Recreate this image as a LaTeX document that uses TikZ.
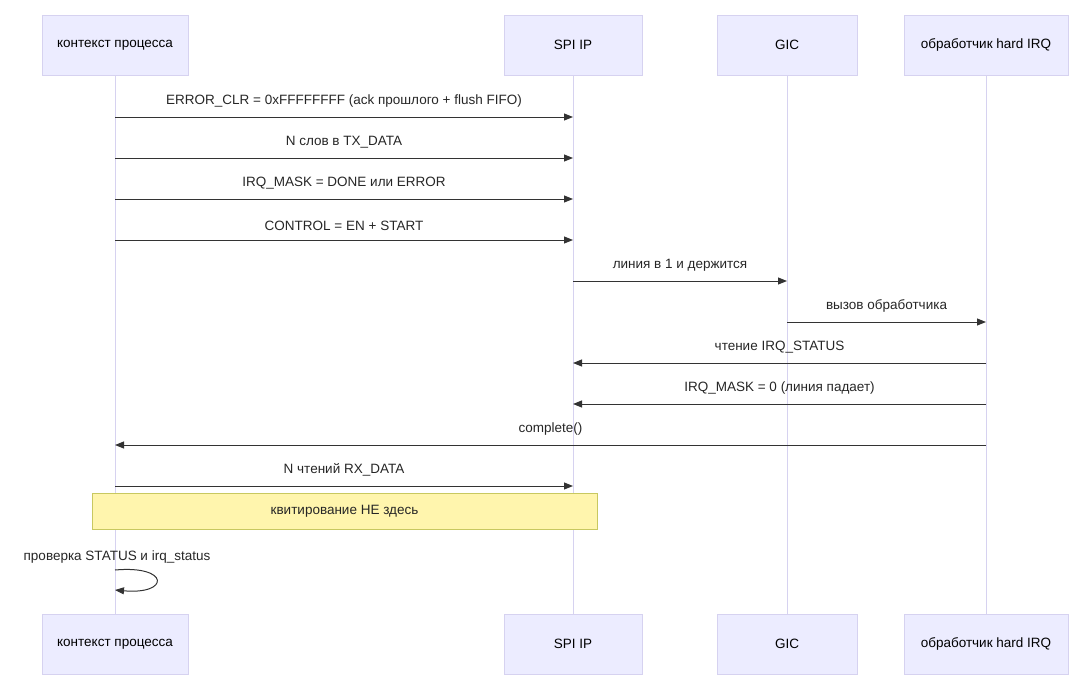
\documentclass[tikz,border=0pt]{standalone}
\usepackage{fontspec}
\setmainfont{Liberation Sans}
\usetikzlibrary{arrows.meta}

\begin{document}
\begin{tikzpicture}[x=1pt, y=-1pt, >={Triangle[length=9pt,width=7pt]},
    actor/.style={draw=lifeC, fill=actorC, minimum height=60pt, inner sep=0pt, font=\fontsize{13.5}{15}\selectfont},
    msg/.style={->, draw=black!80, line width=1pt},
    lbl/.style={font=\fontsize{13.5}{15}\selectfont, text=black!85, inner sep=0pt}]
    \definecolor{actorC}{HTML}{ECECFF}
    \definecolor{lifeC}{HTML}{D6D2F0}
    \definecolor{noteC}{HTML}{FFF5AD}
    \definecolor{noteD}{HTML}{C8C860}
    \useasboundingbox (0,0) rectangle (1086,696);

    % participants
    \node (ctx) at (115,45) [actor, minimum width=146pt] {контекст процесса};
    \node (spi) at (573,45) [actor, minimum width=138pt] {SPI IP};
    \node (gic) at (787,45) [actor, minimum width=140pt] {GIC};
    \node (irq) at (986,45) [actor, minimum width=164pt] {обработчик hard IRQ};
    \node (ctxb) at (115,644) [actor, minimum width=146pt] {контекст процесса};
    \node (spib) at (573,644) [actor, minimum width=138pt] {SPI IP};
    \node (gicb) at (787,644) [actor, minimum width=140pt] {GIC};
    \node (irqb) at (986,644) [actor, minimum width=164pt] {обработчик hard IRQ};

    % lifelines
    \draw [lifeC, line width=1pt] (ctx) -- (ctxb);
    \draw [lifeC, line width=1pt] (spi) -- (spib);
    \draw [lifeC, line width=1pt] (gic) -- (gicb);
    \draw [lifeC, line width=1pt] (irq) -- (irqb);

    % messages
    \draw [msg] (ctx |- 0,117) -- (spi |- 0,117) node [lbl, midway, above=9pt] {ERROR\_CLR = 0xFFFFFFFF (ack прошлого + flush FIFO)};
    \draw [msg] (ctx |- 0,158) -- (spi |- 0,158) node [lbl, midway, above=9pt] {N слов в TX\_DATA};
    \draw [msg] (ctx |- 0,199) -- (spi |- 0,199) node [lbl, midway, above=9pt] {IRQ\_MASK = DONE или ERROR};
    \draw [msg] (ctx |- 0,240) -- (spi |- 0,240) node [lbl, midway, above=9pt] {CONTROL = EN + START};
    \draw [msg] (spi |- 0,281) -- (gic |- 0,281) node [lbl, midway, above=9pt] {линия в 1 и держится};
    \draw [msg] (gic |- 0,322) -- (irq |- 0,322) node [lbl, midway, above=9pt] {вызов обработчика};
    \draw [msg] (irq |- 0,363) -- (spi |- 0,363) node [lbl, midway, above=9pt] {чтение IRQ\_STATUS};
    \draw [msg] (irq |- 0,404) -- (spi |- 0,404) node [lbl, midway, above=9pt] {IRQ\_MASK = 0 (линия падает)};
    \draw [msg] (irq |- 0,445) -- (ctx |- 0,445) node [lbl, midway, above=9pt] {complete()};
    \draw [msg] (ctx |- 0,486) -- (spi |- 0,486) node [lbl, midway, above=9pt] {N чтений RX\_DATA};

    % note
    \node (note) at (344.5,511) [draw=noteD, fill=noteC, minimum width=505pt, minimum height=36pt, lbl] {квитирование НЕ здесь};

    % self call
    \node (self) at (117,557) [lbl] {проверка STATUS и irq\_status};
    \draw [msg] (ctx |- 0,570) .. controls (170,565) and (170,595) .. (ctx |- 0,590);
\end{tikzpicture}
\end{document}
